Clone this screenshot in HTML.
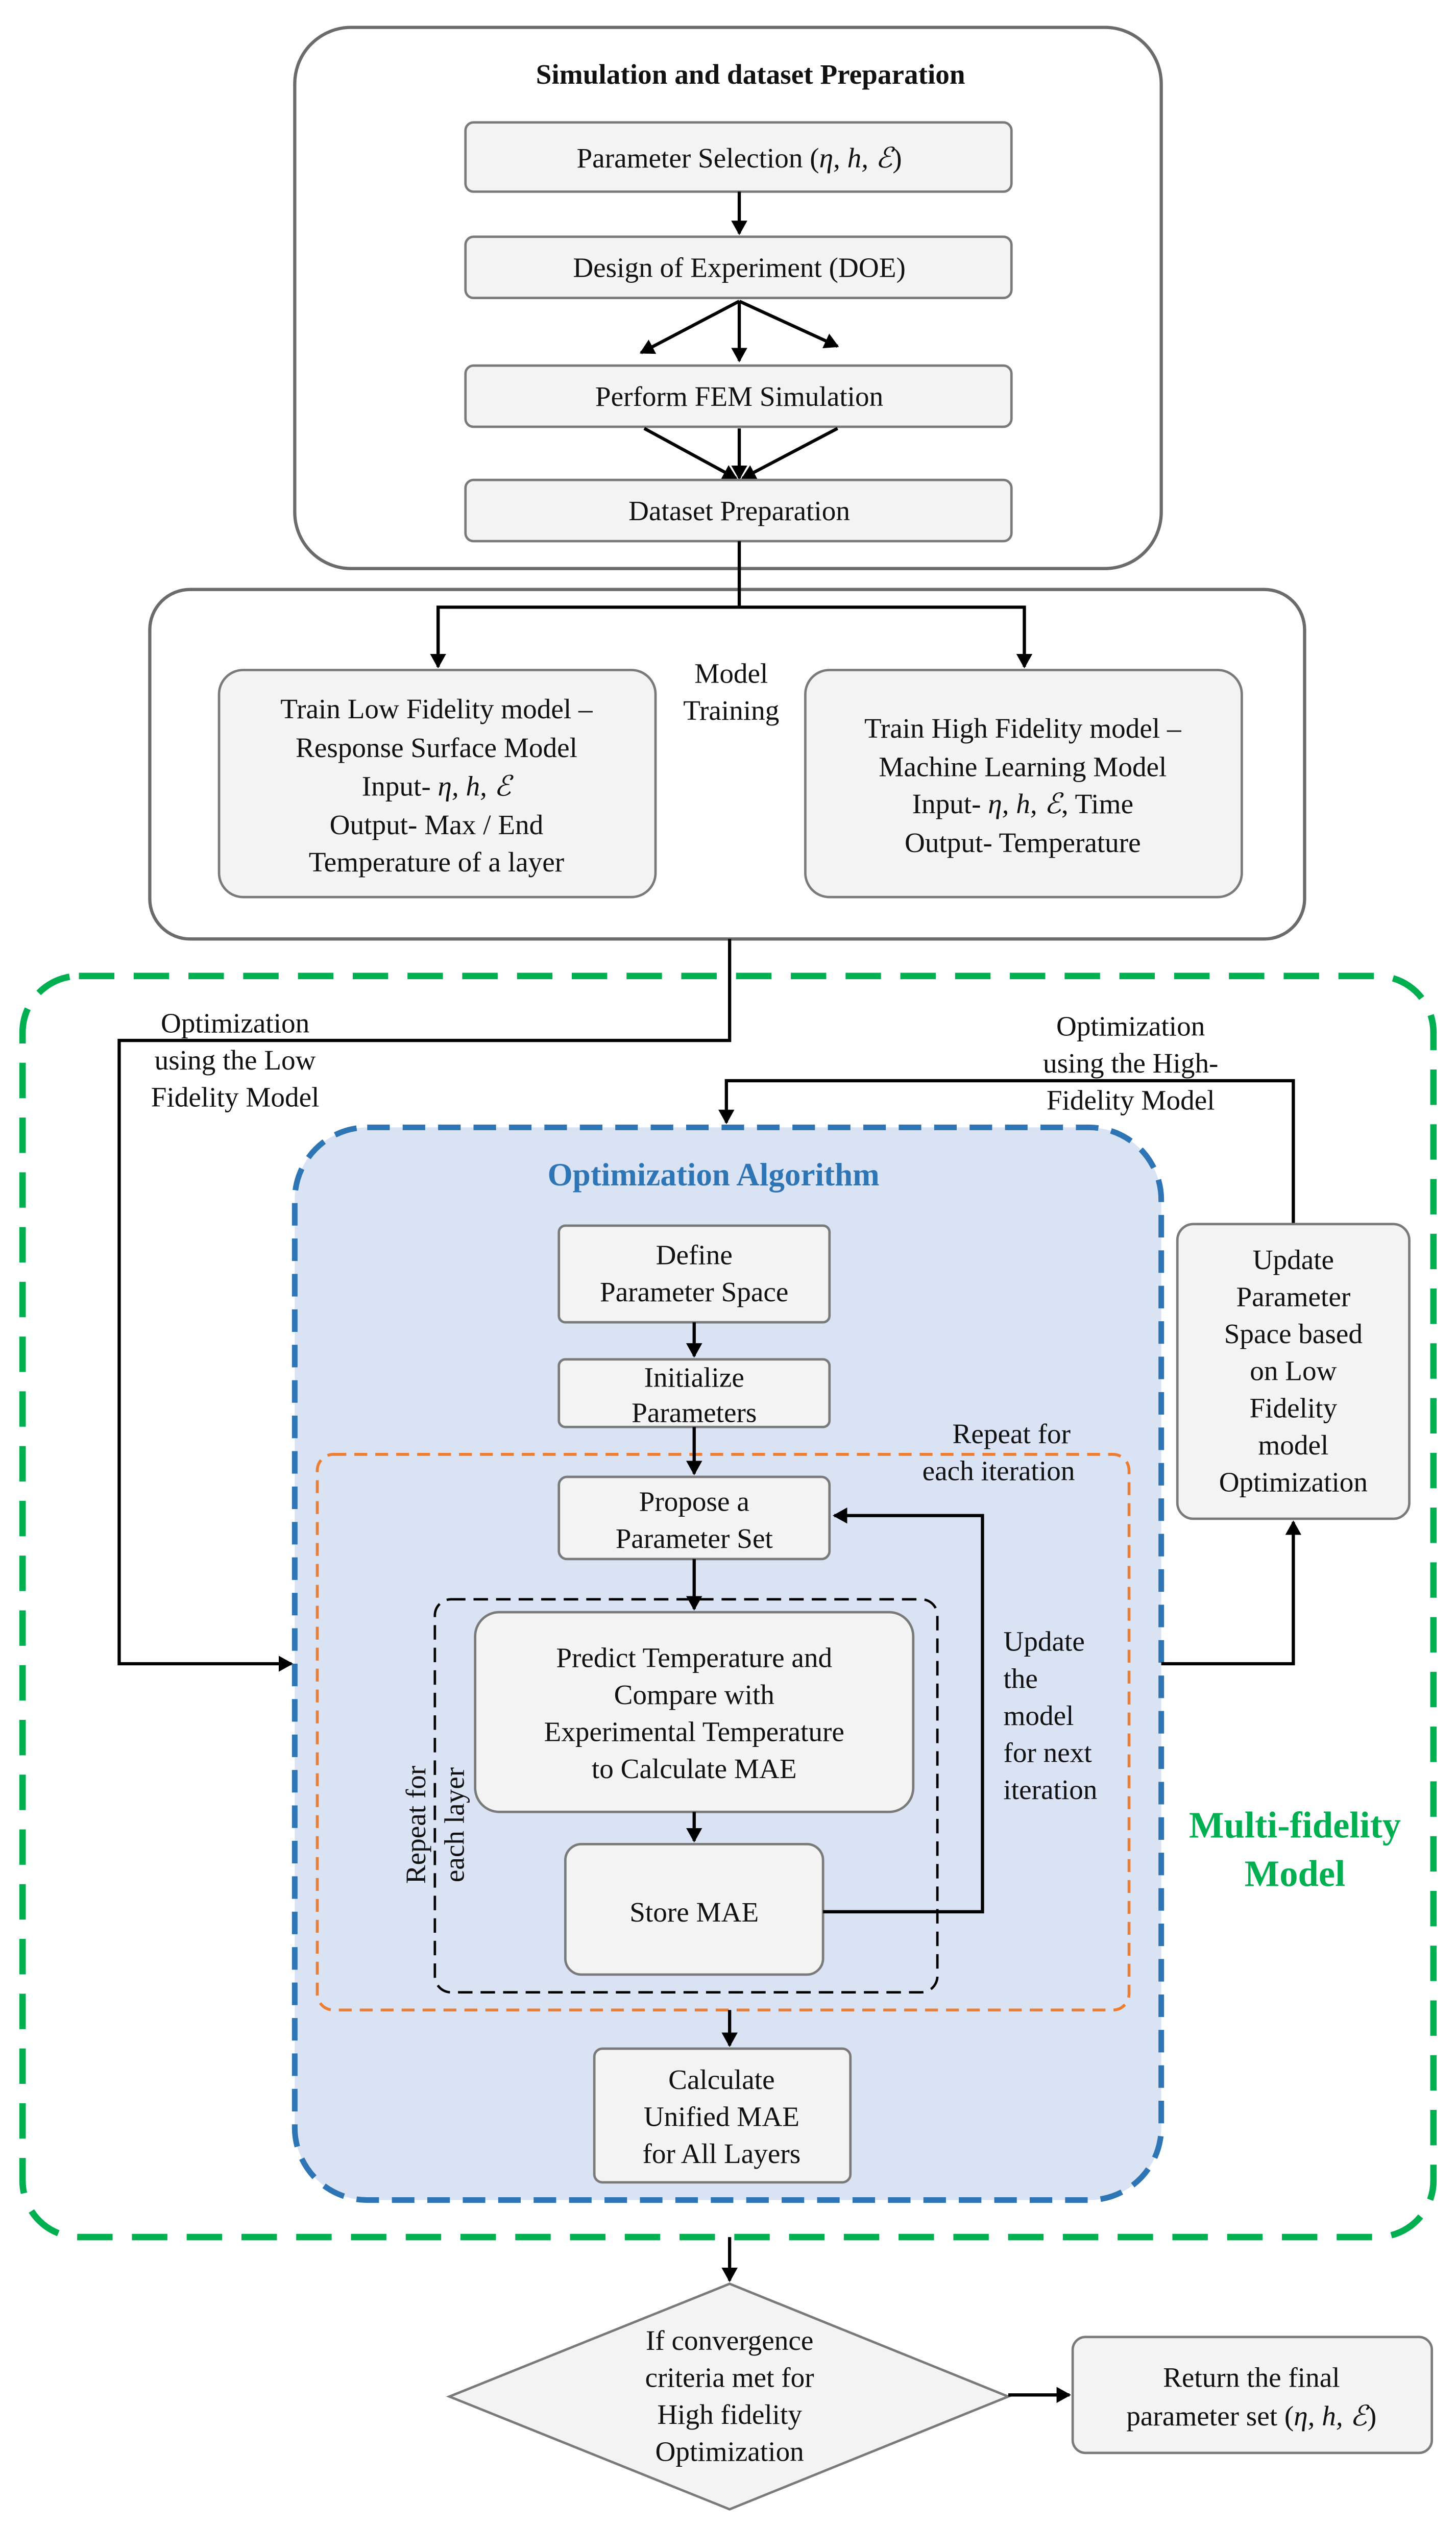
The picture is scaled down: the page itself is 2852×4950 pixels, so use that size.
<!DOCTYPE html>
<html><head><meta charset="utf-8"><style>
html,body{margin:0;padding:0;background:#fff;}
svg{display:block;}
text{font-family:"Liberation Serif",serif;font-size:17.5px;fill:#111;text-anchor:middle;}
.b{fill:#f3f3f3;stroke:#7a7a7a;stroke-width:1.5;}
.l{fill:none;stroke:#000;stroke-width:2;}
</style></head><body>
<svg width="2852" height="4950" viewBox="0 0 904 1569" xmlns="http://www.w3.org/2000/svg">
<defs><marker id="a" markerWidth="10" markerHeight="10" refX="8" refY="5" orient="auto" markerUnits="userSpaceOnUse"><path d="M0,0 L9,5 L0,10 z" fill="#000"/></marker></defs>
<rect width="904" height="1569" fill="#fff"/>
<rect x="183" y="17" width="538" height="336" rx="35" fill="#fff" stroke="#6b6b6b" stroke-width="2"/>
<text x="466" y="52" style="font-weight:bold;font-size:17.5px">Simulation and dataset Preparation</text>
<rect class="b" x="289" y="76" width="339" height="43" rx="5"/>
<text x="459" y="104">Parameter Selection (<tspan font-style="italic">η, h, ℰ</tspan>)</text>
<line class="l" x1="459" y1="119" x2="459" y2="145" marker-end="url(#a)"/>
<rect class="b" x="289" y="147" width="339" height="38" rx="5"/>
<text x="459" y="172">Design of Experiment (DOE)</text>
<line class="l" x1="459" y1="187" x2="398" y2="219" marker-end="url(#a)"/>
<line class="l" x1="459" y1="187" x2="459" y2="224" marker-end="url(#a)"/>
<line class="l" x1="459" y1="187" x2="520" y2="215" marker-end="url(#a)"/>
<rect class="b" x="289" y="227" width="339" height="38" rx="5"/>
<text x="459" y="252">Perform FEM Simulation</text>
<line class="l" x1="400" y1="266" x2="457" y2="297" marker-end="url(#a)"/>
<line class="l" x1="459" y1="266" x2="459" y2="297" marker-end="url(#a)"/>
<line class="l" x1="520" y1="266" x2="461" y2="297" marker-end="url(#a)"/>
<rect class="b" x="289" y="298" width="339" height="38" rx="5"/>
<text x="459" y="323">Dataset Preparation</text>
<rect x="93" y="366" width="717" height="217" rx="25" fill="#fff" stroke="#6b6b6b" stroke-width="2"/>
<polyline class="l" points="459,336 459,377"/>
<polyline class="l" points="272,414 272,377 636,377 636,414" marker-end="url(#a)"/>
<line class="l" x1="272" y1="378" x2="272" y2="414" marker-end="url(#a)"/>
<rect class="b" x="136" y="416" width="271" height="141" rx="15"/>
<text x="271" y="446">Train Low Fidelity model –</text>
<text x="271" y="470">Response Surface Model</text>
<text x="271" y="494">Input- <tspan font-style="italic">η, h, ℰ</tspan></text>
<text x="271" y="518">Output-  Max / End</text>
<text x="271" y="541">Temperature of a layer</text>
<text x="454" y="424">Model</text>
<text x="454" y="447">Training</text>
<rect class="b" x="500" y="416" width="271" height="141" rx="15"/>
<text x="635" y="458">Train High Fidelity model –</text>
<text x="635" y="482">Machine Learning Model</text>
<text x="635" y="505">Input- <tspan font-style="italic">η, h, ℰ</tspan>, Time</text>
<text x="635" y="529">Output-  Temperature</text>
<rect x="14" y="606" width="876" height="783" rx="35" fill="#fff" stroke="#00b050" stroke-width="4" stroke-dasharray="22,12"/>
<text x="146" y="641">Optimization</text>
<text x="146" y="664">using the Low</text>
<text x="146" y="687">Fidelity Model</text>
<text x="702" y="643">Optimization</text>
<text x="702" y="666">using the High-</text>
<text x="702" y="689">Fidelity Model</text>
<rect x="183" y="700" width="538" height="666" rx="45" fill="#dae3f3" stroke="#2e75b6" stroke-width="3.5" stroke-dasharray="14,8"/>
<polyline class="l" points="453,583 453,646 74,646 74,1033 181,1033" marker-end="url(#a)"/>
<polyline class="l" points="803,760 803,671 451,671 451,697" marker-end="url(#a)"/>
<text x="443" y="736" style="font-weight:bold;font-size:20px;fill:#2e75b6">Optimization Algorithm</text>
<rect class="b" x="347" y="761" width="168" height="60" rx="4"/>
<text x="431" y="785">Define</text>
<text x="431" y="808">Parameter Space</text>
<line class="l" x1="431" y1="821" x2="431" y2="842" marker-end="url(#a)"/>
<rect class="b" x="347" y="844" width="168" height="42" rx="4"/>
<text x="431" y="861">Initialize</text>
<text x="431" y="883">Parameters</text>
<rect x="197" y="903" width="504" height="345" rx="10" fill="none" stroke="#ed7d31" stroke-width="1.8" stroke-dasharray="8,5"/>
<text x="628" y="896">Repeat for</text>
<text x="620" y="919">each iteration</text>
<line class="l" x1="431" y1="886" x2="431" y2="915" marker-end="url(#a)"/>
<rect class="b" x="347" y="917" width="168" height="51" rx="5"/>
<text x="431" y="938">Propose  a</text>
<text x="431" y="961">Parameter Set</text>
<line class="l" x1="431" y1="968" x2="431" y2="999" marker-end="url(#a)"/>
<rect x="270" y="993" width="312" height="244" rx="10" fill="none" stroke="#000" stroke-width="1.5" stroke-dasharray="9,5"/>
<rect class="b" x="295" y="1001" width="272" height="124" rx="15"/>
<text x="431" y="1035">Predict Temperature and</text>
<text x="431" y="1058">Compare with</text>
<text x="431" y="1081">Experimental Temperature</text>
<text x="431" y="1104">to Calculate MAE</text>
<line class="l" x1="431" y1="1125" x2="431" y2="1143" marker-end="url(#a)"/>
<rect class="b" x="351" y="1145" width="160" height="81" rx="10"/>
<text x="431" y="1193">Store MAE</text>
<polyline class="l" points="511,1187 610,1187 610,941 518,941" marker-end="url(#a)"/>
<text x="623" y="1025" style="text-anchor:start">Update</text>
<text x="623" y="1048" style="text-anchor:start">the</text>
<text x="623" y="1071" style="text-anchor:start">model</text>
<text x="623" y="1094" style="text-anchor:start">for next</text>
<text x="623" y="1117" style="text-anchor:start">iteration</text>
<text transform="translate(264,1133) rotate(-90)">Repeat for</text>
<text transform="translate(288,1133) rotate(-90)">each layer</text>
<line class="l" x1="453" y1="1248" x2="453" y2="1270" marker-end="url(#a)"/>
<rect class="b" x="369" y="1272" width="159" height="83" rx="5"/>
<text x="448" y="1297">Calculate</text>
<text x="448" y="1320">Unified MAE</text>
<text x="448" y="1343">for All Layers</text>
<polyline class="l" points="721,1033 803,1033 803,945" marker-end="url(#a)"/>
<rect class="b" x="731" y="760" width="144" height="183" rx="10"/>
<text x="803" y="788">Update</text>
<text x="803" y="811">Parameter</text>
<text x="803" y="834">Space based</text>
<text x="803" y="857">on Low</text>
<text x="803" y="880">Fidelity</text>
<text x="803" y="903">model</text>
<text x="803" y="926">Optimization</text>
<text x="804" y="1141" style="font-weight:bold;font-size:23px;fill:#00b050">Multi-fidelity</text>
<text x="804" y="1171" style="font-weight:bold;font-size:23px;fill:#00b050">Model</text>
<line class="l" x1="453" y1="1389" x2="453" y2="1416" marker-end="url(#a)"/>
<polygon class="b" points="453,1418 626,1488 453,1558 279,1488"/>
<text x="453" y="1459">If convergence</text>
<text x="453" y="1482">criteria met for</text>
<text x="453" y="1505">High fidelity</text>
<text x="453" y="1528">Optimization</text>
<line class="l" x1="626" y1="1487" x2="664" y2="1487" marker-end="url(#a)"/>
<rect class="b" x="666" y="1451" width="223" height="72" rx="8"/>
<text x="777" y="1482">Return  the final</text>
<text x="777" y="1506">parameter set (<tspan font-style="italic">η, h, ℰ</tspan>)</text>
</svg>
</body></html>
